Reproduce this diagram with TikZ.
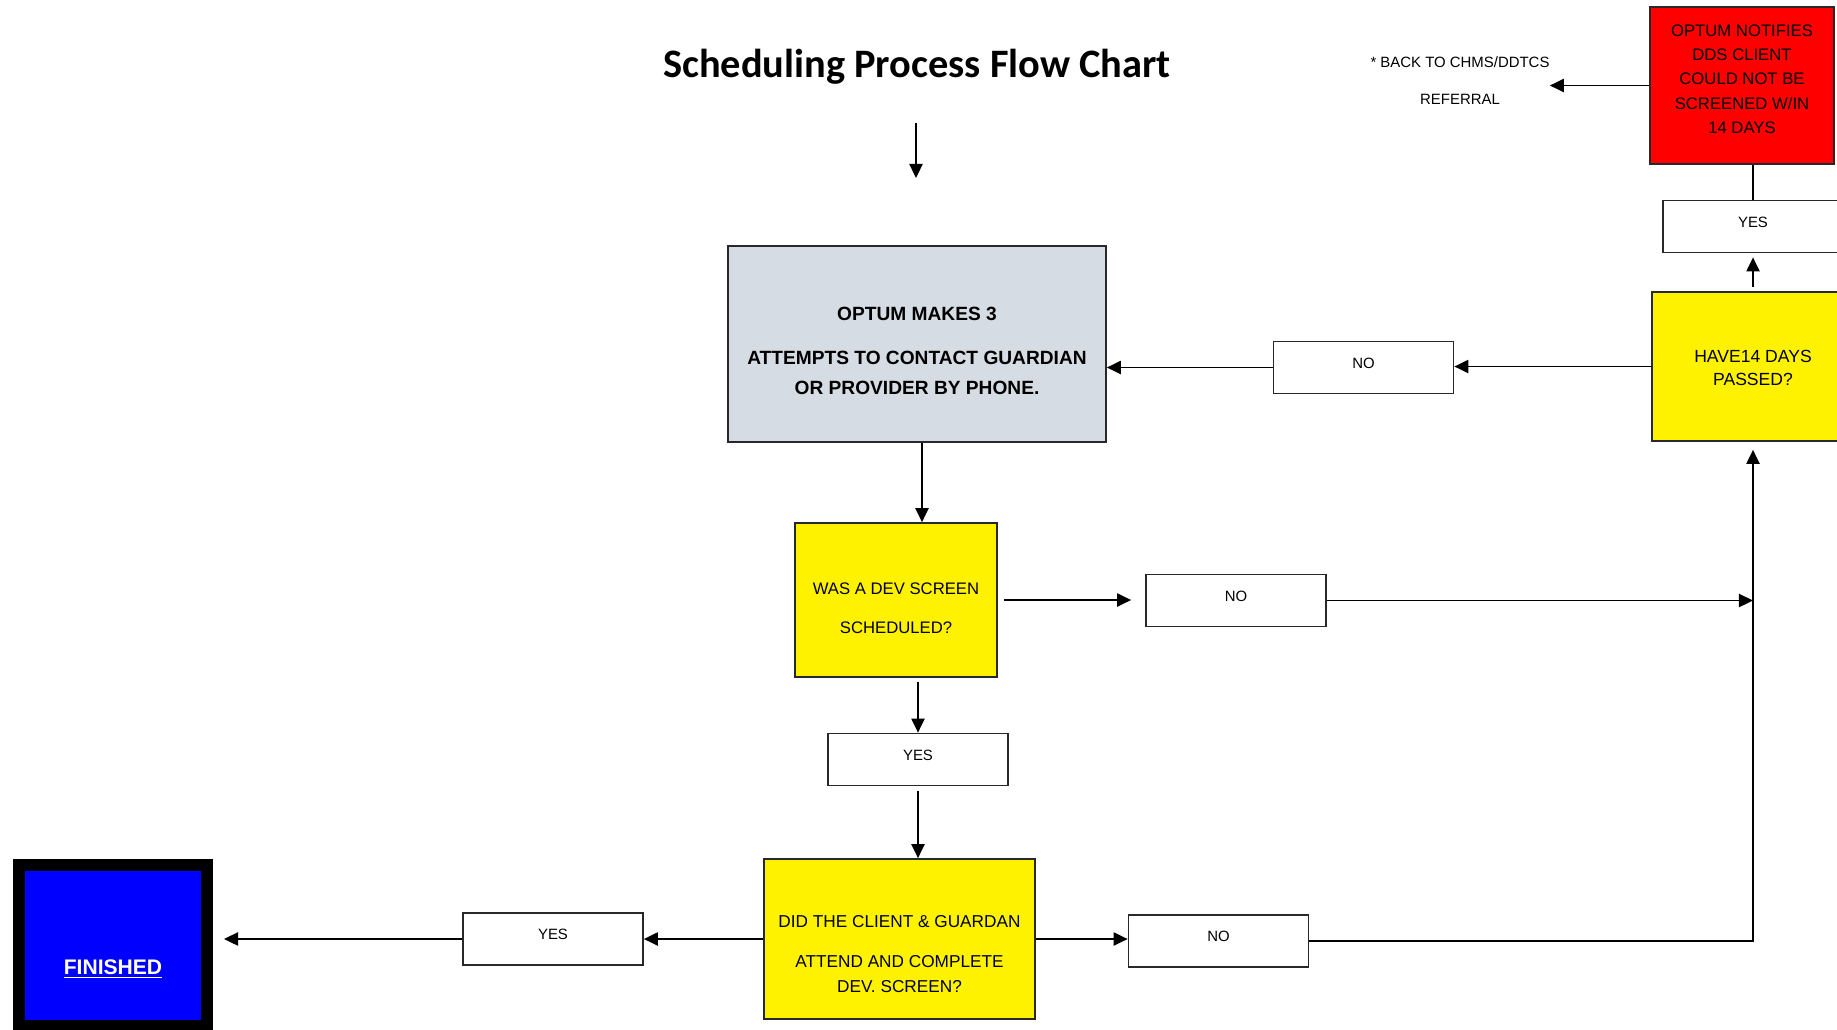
\documentclass[tikz,border=0pt]{standalone}
\usepackage{fontspec}
\setmainfont{Liberation Sans}
\newfontfamily\titlefont{Carlito}
\usetikzlibrary{arrows.meta,calc}
\definecolor{graybluefill}{RGB}{214,220,228}
\definecolor{boxline}{RGB}{40,40,40}
\newcommand\boxtext[2]{\raisebox{#1}[0pt][0pt]{\begin{tabular}[t]{@{}c@{}}#2\end{tabular}}}
\tikzset{
  boxbase/.style={draw=boxline, line width=1pt, inner sep=0pt, align=center},
  graybox/.style={boxbase, fill=graybluefill},
  yelbox/.style={boxbase, fill=yellow},
  redbox/.style={boxbase, fill=red},
  lbl/.style={boxbase, fill=white, minimum width=3.6cm, minimum height=1.04cm,
              font=\fontsize{8.5}{10}\selectfont},
  finbox/.style={draw=black, fill=blue, line width=0.24cm, inner sep=0pt,
                 minimum width=3.76cm, minimum height=3.22cm},
  arr/.style={line width=1pt, -{Triangle[length=8pt,width=7.5pt]}},
  conn/.style={line width=1pt},
}
\begin{document}
\begin{tikzpicture}[x=0.02cm,y=-0.02cm]
\useasboundingbox (0,0) rectangle (1837,1029);

% title
\node[anchor=base, inner sep=0pt, font=\titlefont\bfseries\fontsize{23}{27}\selectfont]
  (title) at (917,77) {Scheduling Process Flow Chart};
\coordinate (t1) at (916,123);
\coordinate (t2) at (916,178);

% boxes
\node[graybox, minimum width=7.56cm, minimum height=3.92cm,
      font=\bfseries\fontsize{10.9}{17.3}\selectfont] (gray) at (917,344)
  {\boxtext{13.6pt}{OPTUM MAKES 3\\[7.9pt] ATTEMPTS TO CONTACT GUARDIAN\\ OR PROVIDER BY PHONE.}};

\node[yelbox, minimum width=4.04cm, minimum height=3.08cm,
      font=\fontsize{9.5}{22.7}\selectfont] (y1) at (896,600)
  {\boxtext{3.4pt}{WAS A DEV SCREEN\\ SCHEDULED?}};

\node[lbl] (no1) at (1236,600.5) {\boxtext{-0.5pt}{NO}};
\node[lbl] (yesmid) at (918,759.5) {\boxtext{-0.5pt}{YES}};

\node[yelbox, minimum width=5.42cm, minimum height=3.2cm,
      font=\fontsize{9.8}{14.2}\selectfont] (y3) at (899.5,939)
  {\boxtext{6.8pt}{DID THE CLIENT \& GUARDAN\\[9pt] ATTEND AND COMPLETE\\ DEV. SCREEN?}};

\node[lbl] (no3) at (1218.5,941) {\boxtext{-0.5pt}{NO}};
\node[lbl] (yesleft) at (553,939) {\boxtext{-0.5pt}{YES}};

\node[finbox, text=white, font=\bfseries\fontsize{12}{14}\selectfont] (fin) at (113,945.5)
  {\boxtext{-16.7pt}{\underline{FINISHED}}};

\node[lbl] (no2) at (1363.5,367.5) {\boxtext{-0.5pt}{NO}};

\node[yelbox, minimum width=4.04cm, minimum height=2.98cm,
      font=\fontsize{10}{13}\selectfont] (y2) at (1753,366.5)
  {\boxtext{2.4pt}{HAVE14 DAYS\\ PASSED?}};

\node[lbl] (yestop) at (1753,226.5) {\boxtext{-0.5pt}{YES}};

\node[redbox, minimum width=3.68cm, minimum height=3.14cm,
      font=\fontsize{9.5}{13.9}\selectfont] (red) at (1742,85.5)
  {\boxtext{28.1pt}{OPTUM NOTIFIES\\ DDS CLIENT\\ COULD NOT BE\\ SCREENED W/IN\\ 14 DAYS}};

\node[inner sep=0pt, font=\fontsize{8.5}{21.5}\selectfont] (backnote) at (1460,82)
  {\boxtext{8.5pt}{* BACK TO CHMS/DDTCS\\ REFERRAL}};

% connectors
\draw[arr] (t1) -- (t2);
\draw[arr] ([xshift=0.1cm]gray.south) -- ([xshift=0.1cm]gray.south |- y1.north);
\draw[arr] ([xshift=0.12cm]y1.east) -- ([xshift=-0.28cm]y1.east -| no1.west);
\draw[arr] (no1.east) -- (no1.east -| y2.south);
\draw[arr] (y3.east) -- (y3.east -| no3.west);
\draw[arr] (no3.east) -| ([yshift=-0.16cm]y2.south);
\draw[arr] (y2.west) -- (y2.west -| no2.east);
\draw[arr] (no2.west) -- (no2.west -| gray.east);
\draw[arr] ([yshift=0.08cm]y2.north) -- ([yshift=-0.08cm]yestop.south);
\draw[conn] (yestop.north) -- (yestop.north |- red.south);
\draw[arr] (red.west) -- (red.west -| backnote.east);
\draw[arr] ([yshift=-0.08cm]yesmid.north |- y1.south) -- (yesmid.north);
\draw[arr] ([yshift=-0.1cm]yesmid.south) -- (yesmid.south |- y3.north);
\draw[arr] (y3.west) -- (y3.west -| yesleft.east);
\draw[arr] (yesleft.west) -- ([xshift=0.22cm]fin.east |- yesleft.west);
\end{tikzpicture}
\end{document}
